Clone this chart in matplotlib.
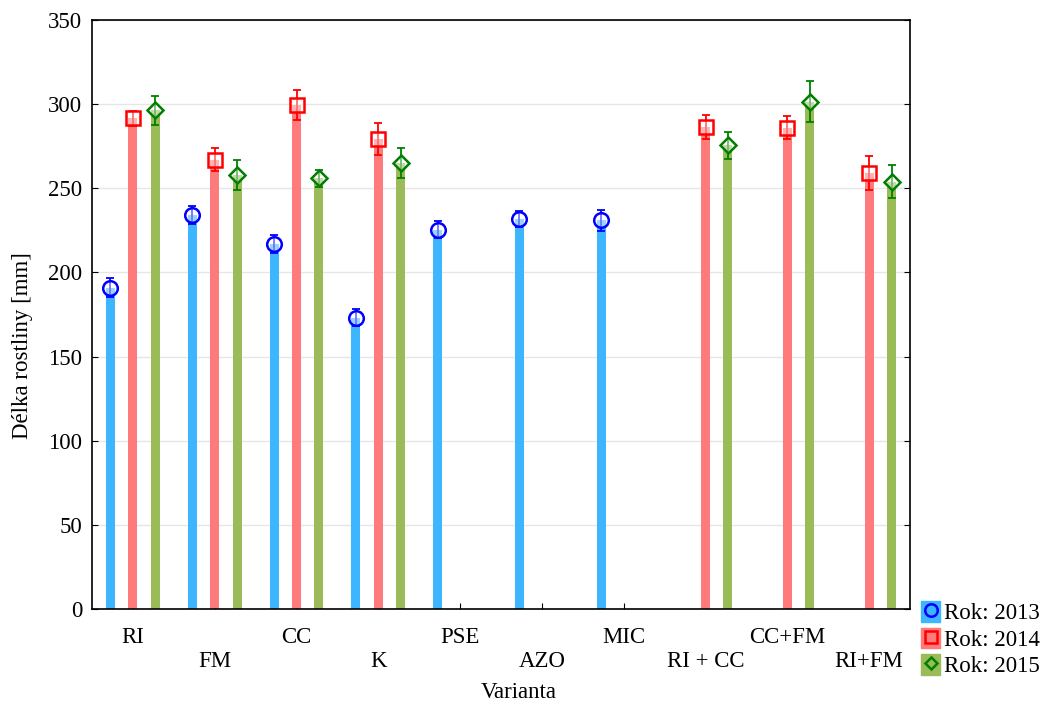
import numpy as np
import matplotlib
matplotlib.use("Agg")
import matplotlib.pyplot as plt
from matplotlib.patches import Patch
from matplotlib.lines import Line2D
from matplotlib.legend_handler import HandlerTuple

plt.rcParams['font.family'] = ['Liberation Serif', 'DejaVu Serif']

# data
varianty = ['RI', 'FM', 'CC', 'K', 'PSE', 'AZO', 'MIC', 'RI + CC', 'CC+FM', 'RI+FM']
roky = ['Rok: 2013', 'Rok: 2014', 'Rok: 2015']
nan = np.nan
val_2013 = [191, 234, 217, 173, 225.5, 231.5, 231, nan, nan, nan]
err_2013 = [5.5, 5.5, 5.5, 5, 5, 4.8, 6.2, nan, nan, nan]
val_2014 = [291.5, 267, 299.5, 279, nan, nan, nan, 286.5, 286, 259]
err_2014 = [4.5, 6.8, 9.2, 9.5, nan, nan, nan, 7, 6.7, 9.9]
val_2015 = [296.5, 258, 256, 265, nan, nan, nan, 275.5, 301.5, 254]
err_2015 = [8.6, 9, 5, 9, nan, nan, nan, 8, 12.4, 9.8]

bar_colors = ['#3db5ff', '#ff7a7a', '#9bbb59']
mark_colors = ['#0000ff', '#ff0000', '#008000']
markers = ['o', 's', 'D']
msizes = [10.5, 10.5, 8]
offsets = [-0.275, 0.0, 0.275]
fs = 16.5

fig = plt.figure(figsize=(10.51, 7.09), dpi=100)
ax = fig.add_axes([92/1051, 1 - 609/709, (910 - 92)/1051, (609 - 20)/709])

x = np.arange(len(varianty))
series = [(val_2013, err_2013), (val_2014, err_2014), (val_2015, err_2015)]
for i, (vals, errs) in enumerate(series):
    vals = np.array(vals, dtype=float)
    errs = np.array(errs, dtype=float)
    ax.bar(x + offsets[i], vals, width=0.11, color=bar_colors[i], zorder=2)
    ax.errorbar(x + offsets[i], vals, yerr=errs, fmt='none', ecolor=mark_colors[i],
                elinewidth=1.3, capsize=3, capthick=1.3, zorder=3)
    ax.plot(x + offsets[i], vals, ls='none', marker=markers[i], ms=msizes[i],
            mec=mark_colors[i], mfc=(1, 1, 1, 0.45), mew=1.8, zorder=4)

ax.set_xlim(-0.5, len(varianty) - 0.5)
ax.set_ylim(0, 350)
ax.set_yticks(np.arange(0, 351, 50))
ax.yaxis.grid(True, color='#e6e6e6', lw=1, zorder=0)
ax.set_axisbelow(True)

labs = [v if k % 2 == 0 else '\n' + v for k, v in enumerate(varianty)]
ax.set_xticks(x)
ax.set_xticklabels(labs, fontsize=fs)
for t in ax.get_xticklabels():
    t.set_linespacing(1.2)
ax.tick_params(axis='x', direction='in', length=4, pad=13, top=False)
ax.tick_params(axis='y', direction='in', length=4, pad=7, labelsize=fs, right=True)
for s in ax.spines.values():
    s.set_linewidth(1.2)

ax.set_ylabel('Délka rostliny [mm]', fontsize=fs)
ax.yaxis.set_label_coords(-0.072, (609 - 346) / 589)
fig.text(519/1051, 1 - 693/709, 'Varianta', ha='center', va='center', fontsize=fs)

handles = [(Patch(facecolor=bar_colors[i], edgecolor=bar_colors[i]),
            Line2D([], [], ls='none', marker=markers[i], ms=msizes[i] - 1.5,
                   mec=mark_colors[i], mfc='none', mew=1.8)) for i in range(3)]
fig.legend(handles, roky, loc='upper left', bbox_to_anchor=(921/1051, 1 - 601/709),
           frameon=False, fontsize=fs, handlelength=0.85, handleheight=1.0,
           handletextpad=0.15, labelspacing=0.15, borderaxespad=0, borderpad=0,
           handler_map={tuple: HandlerTuple(ndivide=1)})

fig.savefig('out.png', dpi=100)
